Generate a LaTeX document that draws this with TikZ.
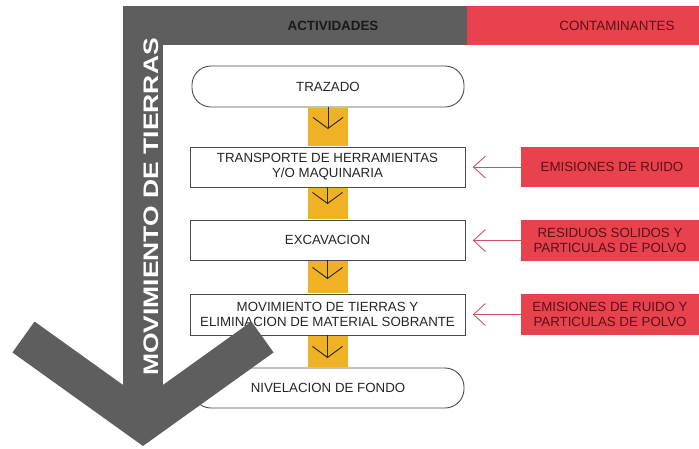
\documentclass[tikz,border=0pt]{standalone}
\usepackage{fontspec}
\setmainfont{Liberation Sans}
\usetikzlibrary{calc}
\definecolor{grayc}{HTML}{5E5E5F}
\definecolor{redc}{HTML}{E8424F}
\definecolor{redtxt}{HTML}{5A0F16}
\definecolor{yelc}{HTML}{EFB225}
\definecolor{arrred}{HTML}{CF5264}
\definecolor{boxline}{HTML}{4A4A4A}
\tikzset{
  flowbox/.style={draw=boxline, line width=0.9pt, fill=white, minimum width=275pt, minimum height=40pt, inner sep=0pt, align=center, font=\fontsize{13.3}{15}\selectfont, text=black!85},
  roundbox/.style={flowbox, minimum width=272pt, minimum height=41pt, rounded corners=19pt},
  redbox/.style={fill=redc, minimum width=178pt, minimum height=40pt, inner sep=0pt, align=center, font=\fontsize{13.3}{14.5}\selectfont, text=redtxt},
  darr/.style={draw=black!85, line width=0.9pt},
  rarr/.style={draw=arrred, line width=0.9pt},
}
\begin{document}
\begin{tikzpicture}[x=1pt,y=-1pt]
\useasboundingbox (0,0) rectangle (699,448);
% header
\fill[grayc] (123,6) rectangle (467,45);
\fill[redc] (467,6) rectangle (699,45);
\node[font=\bfseries\fontsize{13.4}{15}\selectfont, text=black!90] (hact) at (333,25.5) {ACTIVIDADES};
\node[font=\fontsize{13.4}{15}\selectfont, text=redtxt] (hcon) at (617,25.5) {CONTAMINANTES};
% stem
\fill[grayc] (123,6) rectangle (163,425);
% flow boxes
\node[roundbox] (b1) at (328,86.5) {TRAZADO};
\node[flowbox] (b2) at (327.5,167) {TRANSPORTE DE HERRAMIENTAS\\Y/O MAQUINARIA};
\node[flowbox] (b3) at (327.5,240) {EXCAVACION};
\node[flowbox, minimum height=41pt] (b4) at (327.5,314.5) {MOVIMIENTO DE TIERRAS Y\\ELIMINACION DE MATERIAL SOBRANTE};
\node[roundbox, minimum height=40pt] (b5) at (328,388) {NIVELACION DE FONDO};
% yellow connectors
\foreach \u/\l/\d [count=\i] in {b1/b2/21, b2/b3/16, b3/b4/18, b4/b5/22}{
  \fill[yelc] ($(\u.south)+(-20,0.5)$) rectangle ($(\l.north)+(20,-0.5)$);
  \coordinate (tip\i) at ($(\u.south)+(0,\d)$);
  \draw[darr] (\u.south) -- (tip\i);
  \draw[darr] ($(tip\i)+(-15,-11)$) -- (tip\i) -- ($(tip\i)+(15,-11)$);
}
% red boxes
\node[redbox] (r1) at (610,167) {\hspace*{4pt}EMISIONES DE RUIDO};
\node[redbox, minimum height=41pt] (r2) at (610,240.5) {RESIDUOS SOLIDOS Y\\PARTICULAS DE POLVO};
\node[redbox, minimum height=41pt] (r3) at (610,314.5) {EMISIONES DE RUIDO Y\\PARTICULAS DE POLVO};
\foreach \r/\b [count=\i] in {r1/b2, r2/b3, r3/b4}{
  \coordinate (rt\i) at ($(\b.east |- \r.west)+(8,0)$);
  \draw[rarr] (\r.west) -- (rt\i);
  \draw[rarr] ($(rt\i)+(12,-11)$) -- (rt\i) -- ($(rt\i)+(12,11)$);
}
% chevron
\draw[grayc, line width=38pt, miter limit=10] (23.5,337) -- (143,422.6) -- (262.5,337);
% stem label
\node[rotate=90, text=white, inner sep=0pt, font=\bfseries\fontsize{21}{24}\selectfont] (stemtxt) at (151,207) {\scalebox{1.26}[1]{MOVIMIENTO DE TIERRAS}};
\end{tikzpicture}
\end{document}
